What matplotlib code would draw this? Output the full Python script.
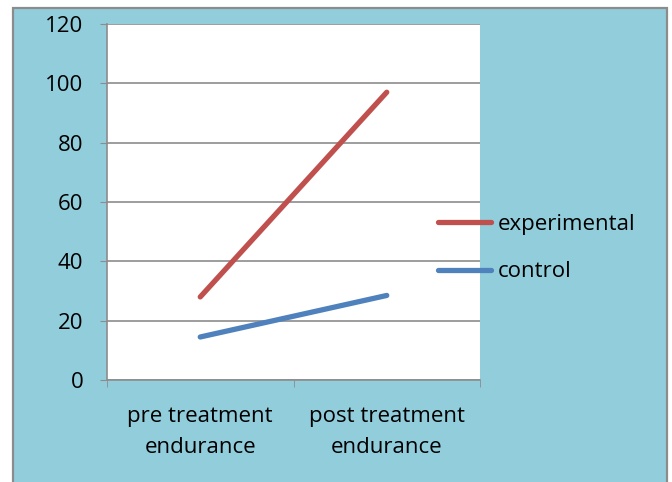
import matplotlib.pyplot as plt
from matplotlib.patches import Rectangle

# data
categories = ["pre treatment\nendurance", "post treatment\nendurance"]
experimental = [28, 97]
control = [14.5, 28.5]
series_names = ["experimental", "control"]

bg = "#92CDDC"
fs = 16
plt.rcParams['font.family'] = ['Open Sans', 'DejaVu Sans']

fig = plt.figure(figsize=(6.72, 4.82), dpi=100)
fig.patch.set_facecolor("white")

# light blue chart area with grey border (left, top, right)
fig.patches.append(Rectangle((13 / 672, -0.05), 654 / 672, 1 - 8 / 482 + 0.05,
                             transform=fig.transFigure, facecolor=bg,
                             edgecolor="#8c8c8c", linewidth=1.6, zorder=-5))

ax = fig.add_axes([107 / 672, 1 - 380 / 482, 373 / 672, 356 / 482])
ax.set_facecolor("white")

x = [0, 1]
ax.plot(x, experimental, color="#C0504D", lw=3.8, solid_capstyle="round", label=series_names[0], zorder=3)
ax.plot(x, control, color="#4F81BD", lw=3.8, solid_capstyle="round", label=series_names[1], zorder=3)

ax.set_xlim(-0.5, 1.5)
ax.set_ylim(0, 120)
ax.set_yticks(range(0, 121, 20))
ax.set_xticks(x)
ax.set_xticklabels(categories, fontsize=fs, linespacing=1.6)
ax.tick_params(axis="y", labelsize=fs, length=5, color="#8c8c8c", pad=12)
ax.tick_params(axis="x", length=0, pad=19)
# category boundary ticks
ax.set_xticks([-0.5, 0.5, 1.5], minor=True)
ax.tick_params(axis="x", which="minor", length=5, color="#8c8c8c")

ax.grid(axis="y", color="#8c8c8c", lw=1.2)
ax.set_axisbelow(True)
for s in ["top", "right"]:
    ax.spines[s].set_visible(False)
for s in ["left", "bottom"]:
    ax.spines[s].set_color("#8c8c8c")
    ax.spines[s].set_linewidth(1.2)

fig.legend(loc="center left", bbox_to_anchor=(438 / 672, 1 - 248 / 482), frameon=False,
           fontsize=fs, handlelength=2.4, handletextpad=0.3, labelspacing=1.2,
           borderpad=0, borderaxespad=0)

fig.savefig("out.png", dpi=100)
